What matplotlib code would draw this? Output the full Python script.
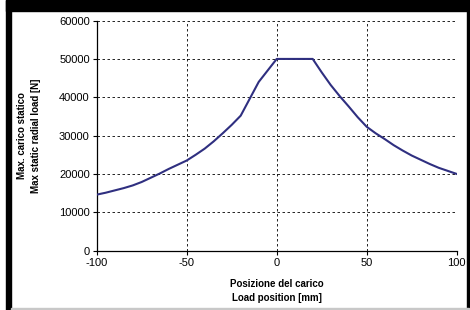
import numpy as np
import matplotlib.pyplot as plt
from matplotlib.patches import Rectangle

plt.rcParams['font.family'] = ['Liberation Sans', 'DejaVu Sans']
plt.rcParams['axes.unicode_minus'] = False

# ==========================================
# Data
# ==========================================
position_mm = [-100, -95, -90, -85, -80, -75, -70, -65, -60, -55, -50, -45, -40,
               -35, -30, -25, -20, -15, -10, -5, 0, 10, 20,
               25, 30, 35, 40, 45, 50, 55, 60, 65, 70, 75, 80, 85, 90, 95, 100]
max_load_n = [14600, 15100, 15700, 16300, 17000, 17900, 19000, 20100, 21300, 22400,
              23500, 25000, 26600, 28500, 30600, 32800, 35200, 39600, 44000, 47000,
              50000, 50000, 50000,
              46500, 43200, 40300, 37600, 34800, 32300, 30600, 29100, 27500, 26100,
              24800, 23700, 22600, 21600, 20800, 20000]

x_ticks = [-100, -50, 0, 50, 100]
y_ticks = [0, 10000, 20000, 30000, 40000, 50000, 60000]

W, H = 470, 310
fig = plt.figure(figsize=(W / 100, H / 100), dpi=100)

# frame around the picture: thick black top/left, thin right, grey bottom
fig.patches.append(Rectangle((6 / W, 1 - 11 / H), 1 - 6 / W, 11 / H,
                             transform=fig.transFigure, color='black', zorder=0))
fig.patches.append(Rectangle((6 / W, 0), 5 / W, 1,
                             transform=fig.transFigure, color='black', zorder=0))
fig.patches.append(Rectangle((466.5 / W, 0), 2.5 / W, 1,
                             transform=fig.transFigure, color='black', zorder=0))
fig.patches.append(Rectangle((11 / W, 0), 458 / W, 2.5 / H,
                             transform=fig.transFigure, color='#c8c8c8', zorder=0))

ax = fig.add_axes([96.7 / W, 1 - 250.6 / H, 360 / W, 230 / H])

ax.plot(position_mm, max_load_n, color='#2f2f80', linewidth=1.5, zorder=3)

ax.set_xlim(-100, 100)
ax.set_ylim(0, 60000)
ax.set_xticks(x_ticks)
ax.set_yticks(y_ticks)
ax.tick_params(axis='both', direction='out', length=3, width=0.8,
               labelsize=8, pad=2)

ax.grid(True, color='black', linestyle=(0, (3, 3)), linewidth=0.6)
ax.set_axisbelow(True)

ax.spines['top'].set_visible(False)
ax.spines['right'].set_visible(False)
ax.spines['left'].set_linewidth(0.9)
ax.spines['bottom'].set_linewidth(0.9)

ax.set_xlabel('Posizione del carico\nLoad position [mm]', fontsize=7,
              fontweight='bold', linespacing=1.5, labelpad=8)
ax.set_ylabel('Max. carico statico\nMax static radial load [N]', fontsize=7,
              fontweight='bold', linespacing=1.5, labelpad=13)

plt.savefig('out.png', dpi=100)
plt.close()
